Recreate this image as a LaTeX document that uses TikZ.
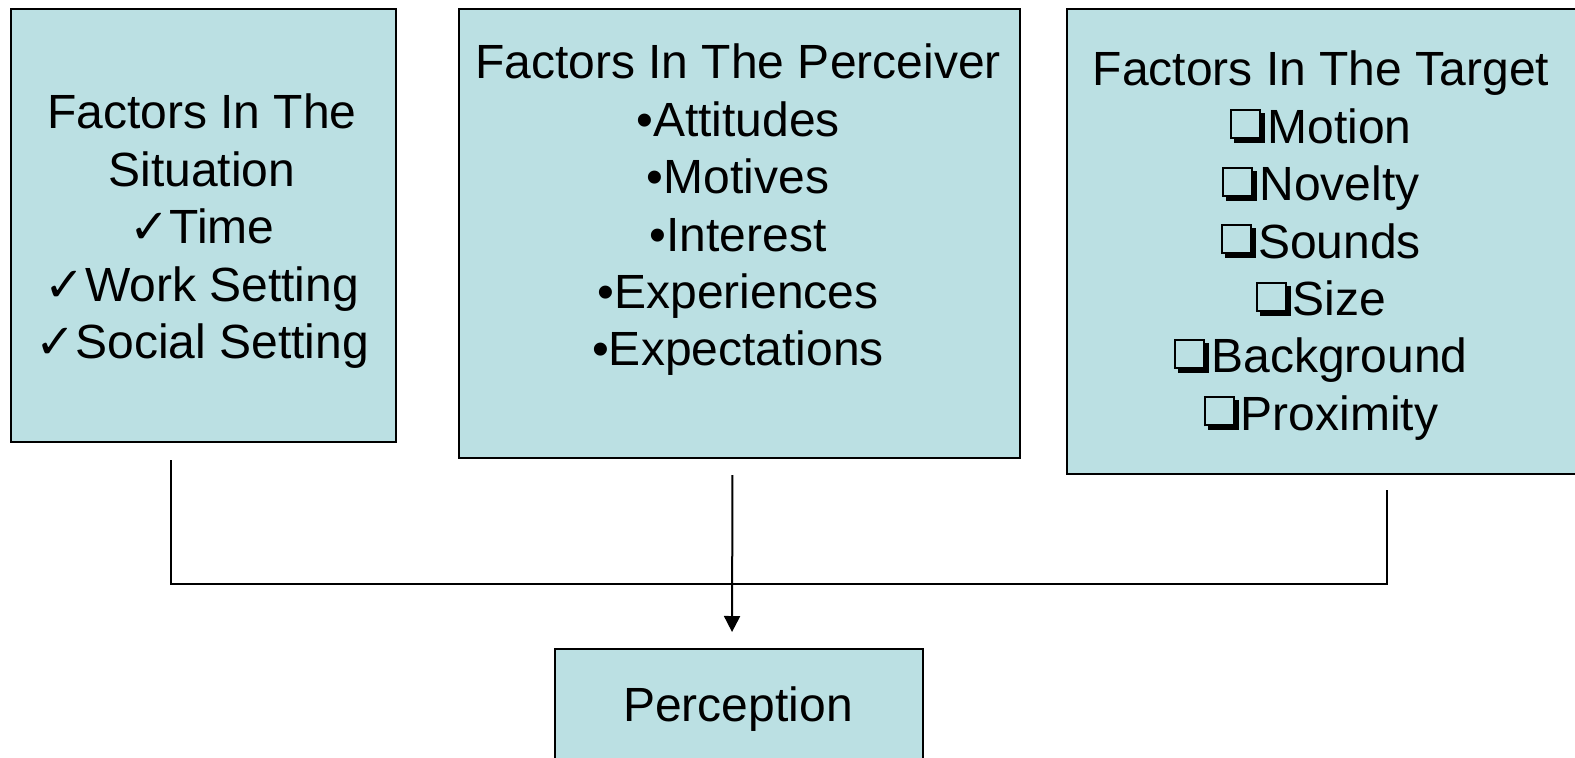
\documentclass[tikz,border=0pt]{standalone}
\usepackage{fontspec}
\setmainfont{Liberation Sans}
\newfontfamily\symfont{DejaVu Sans}
\usetikzlibrary{arrows.meta}

\definecolor{boxfill}{RGB}{187,224,227}
\newcommand{\tick}{{\symfont ✓}}
% square bullet with shadow at right and bottom, built from rules
\newcommand{\sqmark}{\mbox{%
  \rlap{\raisebox{4pt}{\rule{2pt}{30pt}}}%
  \rlap{\raisebox{32pt}{\rule{31pt}{2pt}}}%
  \rlap{\hspace{29pt}\raisebox{4pt}{\rule{2pt}{30pt}}}%
  \rlap{\hspace{29pt}\rule{6pt}{30pt}}%
  \rlap{\raisebox{4pt}{\rule{31pt}{2pt}}}%
  \rlap{\hspace{4pt}\rule{31pt}{6pt}}%
  \hspace{37pt}}}

\tikzset{
  factorbox/.style={draw, line width=2pt, fill=boxfill, anchor=north west, inner sep=0pt},
  factortext/.style={anchor=north, align=center, inner sep=0pt,
    font=\fontsize{48}{57.4}\selectfont}
}

\begin{document}
\begin{tikzpicture}[x=1pt,y=-1pt]
\useasboundingbox (0,0) rectangle (1575,758);

\node[factorbox, minimum width=385, minimum height=433] (situation) at (10,8) {};
\node[factorbox, minimum width=561, minimum height=449] (perceiver) at (458,8) {};
\node[factorbox, minimum width=512, minimum height=465] (target) at (1066,8) {};
\node[factorbox, minimum width=368, minimum height=130] (perception) at (554,648) {};

\node[factortext] (situationtext) at (202,94)
{Factors In The~\\Situation\\\tick Time\\\tick Work Setting\\\tick Social Setting};

\node[factortext] (perceivertext) at (738,44)
{Factors In The Perceiver\\•Attitudes\\•Motives\\•Interest\\•Experiences\\•Expectations};

\node[factortext] (targettext) at (1321,51)
{Factors In The Target\\\sqmark Motion\\\sqmark Novelty\\\sqmark Sounds\\\sqmark Size\\
\sqmark Background\\\sqmark Proximity};

\node[factortext] (perceptiontext) at (738,687) {Perception};

\coordinate (leftfoot) at (171,584);
\coordinate (rightfoot) at (1387,584);

\draw[line width=2pt, shorten <=17pt, shorten >=15pt]
  (situation.south -| leftfoot) -- (leftfoot) -- (rightfoot) -- (target.south -| rightfoot);

\draw[-{Triangle[length=16pt,width=16pt]}, line width=2pt, shorten <=16pt, shorten >=16pt]
  ([xshift=-7pt]perceiver.south) -- ([xshift=-7pt]perception.north);

\end{tikzpicture}
\end{document}
